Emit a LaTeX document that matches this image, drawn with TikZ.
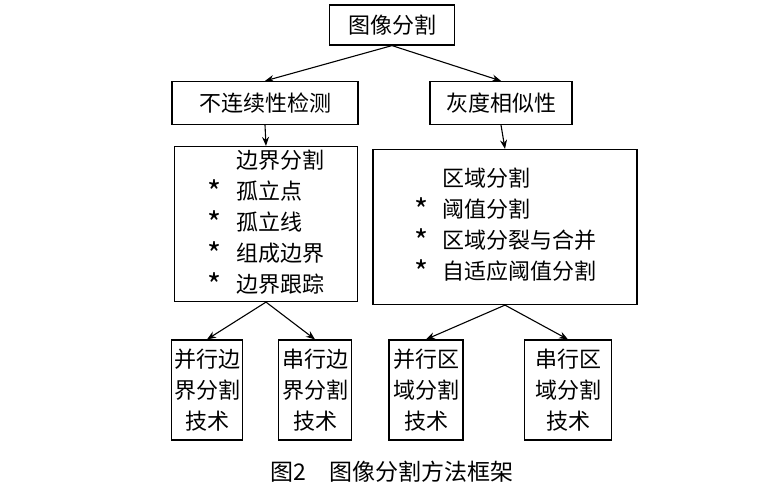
\documentclass[tikz,border=0pt]{standalone}
\usepackage{fontspec}
\setmainfont{Noto Sans CJK SC}
\usetikzlibrary{arrows.meta}
\newcommand{\bigstar}{\raisebox{-4pt}{\fontsize{30}{30}\selectfont *}}
\begin{document}
\begin{tikzpicture}[x=1pt,y=-1pt,
  box/.style={draw,line width=1.2pt,inner sep=0pt,font=\fontsize{22}{31}\selectfont,align=center},
  arr/.style={-{Stealth[length=9pt,width=7pt]},line width=1.1pt}]
\useasboundingbox (0,0) rectangle (784,500);
\node[box,minimum width=125,minimum height=40] (top) at (392,25) {图像分割};
\node[box,minimum width=186,minimum height=43] (dis) at (265,103) {不连续性检测};
\node[box,minimum width=142,minimum height=43] (sim) at (501,103) {灰度相似性};
\node[box,minimum width=183,minimum height=152] (lb) at (266,224) {\begin{tabular}{@{}l@{\hspace{14pt}}l@{}} & 边界分割\\ \bigstar & 孤立点\\ \bigstar & 孤立线\\ \bigstar & 组成边界\\ \bigstar & 边界跟踪\end{tabular}};
\node[box,minimum width=264,minimum height=155] (rb) at (505,227) {\begin{tabular}{@{}l@{\hspace{14pt}}l@{}} & 区域分割\\ \bigstar & 阈值分割\\ \bigstar & 区域分裂与合并\\ \bigstar & 自适应阈值分割\end{tabular}};
\node[box,minimum width=71,minimum height=100] (b1) at (207,390) {并行边\\界分割\\技术};
\node[box,minimum width=73,minimum height=100] (b2) at (315,390) {串行边\\界分割\\技术};
\node[box,minimum width=74,minimum height=100] (b3) at (426,390) {并行区\\域分割\\技术};
\node[box,minimum width=87,minimum height=100] (b4) at (568,390) {串行区\\域分割\\技术};
\node[font=\fontsize{23}{26}\selectfont] (cap) at (392,472) {图2\quad 图像分割方法框架};
\draw[arr] (top.south) -- (dis.north);
\draw[arr] (top.south) -- (sim.north);
\draw[arr] (dis.south) -- (lb.north);
\draw[arr] (sim.south) -- (rb.north);
\draw[arr] (lb.south) -- (b1.north);
\draw[arr] (lb.south) -- (b2.north);
\draw[arr] (rb.south) -- (b3.north);
\draw[arr] (rb.south) -- (b4.north);
\end{tikzpicture}
\end{document}
